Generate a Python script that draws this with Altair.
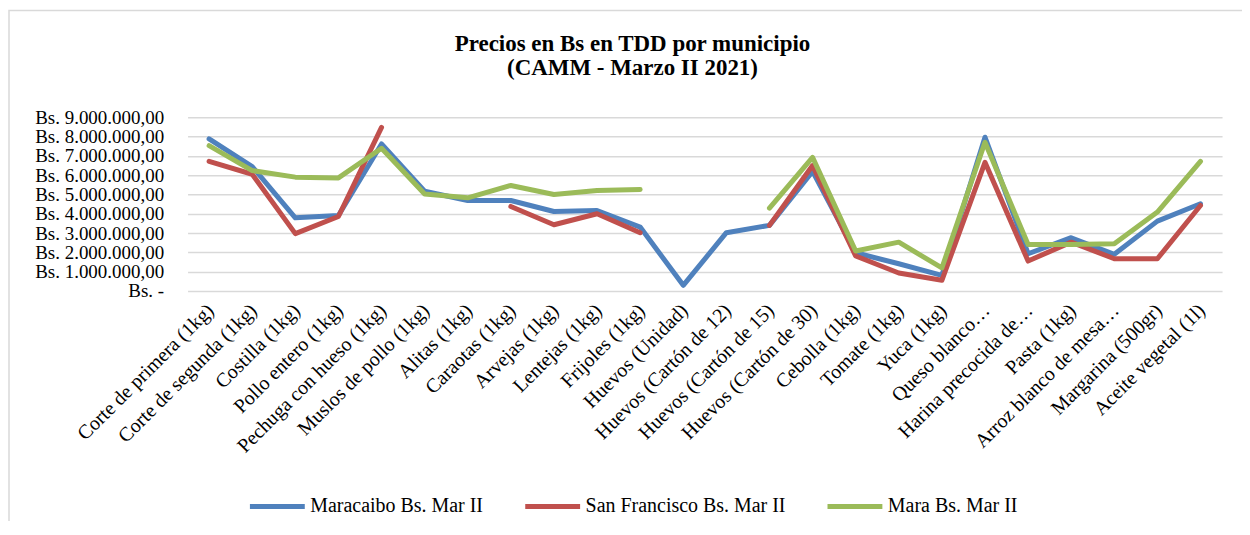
import altair as alt
import pandas as pd

categories = [
    "Corte de primera (1kg)", "Corte de segunda (1kg)", "Costilla (1kg)",
    "Pollo entero (1kg)", "Pechuga con hueso (1kg)", "Muslos de pollo (1kg)",
    "Alitas (1kg)", "Caraotas (1kg)", "Arvejas (1kg)", "Lentejas (1kg)",
    "Frijoles (1kg)", "Huevos (Unidad)", "Huevos (Cartón de 12)",
    "Huevos (Cartón de 15)", "Huevos (Cartón de 30)", "Cebolla (1kg)",
    "Tomate (1kg)", "Yuca (1kg)", "Queso blanco…", "Harina precocida de…",
    "Pasta (1kg)", "Arroz blanco de mesa…", "Margarina (500gr)", "Aceite vegetal (1l)",
]

maracaibo = [7880000, 6450000, 3790000, 3910000, 7620000, 5170000, 4690000, 4690000,
             4120000, 4170000, 3310000, 290000, 3020000, 3400000, 6200000, 1980000,
             1410000, 810000, 7970000, 1930000, 2760000, 1900000, 3620000, 4520000]
san_francisco = [6720000, 6050000, 2970000, 3860000, 8480000, None, None, 4380000,
                 3430000, 4000000, 3020000, None, None, 3400000, 6500000, 1810000,
                 930000, 550000, 6670000, 1550000, 2530000, 1670000, 1670000, 4430000]
mara = [7530000, 6240000, 5900000, 5860000, 7400000, 5030000, 4830000, 5470000,
        5000000, 5210000, 5260000, None, None, 4290000, 6930000, 2070000,
        2530000, 1190000, 7710000, 2410000, 2410000, 2450000, 4090000, 6720000]

series_names = ["Maracaibo Bs. Mar II", "San Francisco Bs. Mar II", "Mara Bs. Mar II"]
series_colors = ["#4F81BD", "#C0504D", "#9BBB59"]
y_ticks = [0, 1000000, 2000000, 3000000, 4000000, 5000000, 6000000, 7000000, 8000000, 9000000]
title_lines = ["Precios en Bs en TDD por municipio", "(CAMM - Marzo II 2021)"]

rows = []
for name, vals in zip(series_names, [maracaibo, san_francisco, mara]):
    seg = 0
    gap = True
    for cat, v in zip(categories, vals):
        if v is None:
            gap = True
            continue
        if gap:
            seg += 1
            gap = False
        rows.append({"categoria": cat, "serie": name, "valor": v, "tramo": f"{name}-{seg}"})
df = pd.DataFrame(rows)

FONT = "Liberation Serif"

x_enc = alt.X(
    "categoria:N", sort=categories, title=None,
    scale=alt.Scale(type="point", padding=0.5),
    axis=alt.Axis(labelAngle=-45, labelAlign="right", labelBaseline="top",
                  labelPadding=9, labelOffset=-6, labelFont=FONT, labelFontSize=20,
                  labelColor="#000000", labelLimit=400, labelOverlap=False,
                  domain=False, ticks=False, grid=False),
)
y_enc = alt.Y(
    "valor:Q", title=None,
    scale=alt.Scale(domain=[0, 9000000], nice=False),
    axis=alt.Axis(values=y_ticks,
                  labelExpr="datum.value == 0 ? 'Bs. -\u00a0\u00a0' : 'Bs. ' + format(datum.value / 1000000, 'd') + '.000.000,00'",
                  labelFont=FONT, labelFontSize=19, labelColor="#000000", labelPadding=24,
                  labelLimit=400, labelOverlap=False, domain=False, ticks=False, grid=True,
                  gridColor="#D9D9D9", gridWidth=1.5),
)
color_enc = alt.Color(
    "serie:N", title=None,
    scale=alt.Scale(domain=series_names, range=series_colors),
    legend=alt.Legend(orient="none", legendX=60, legendY=360, direction="horizontal",
                      symbolType="stroke", symbolSize=3025, symbolStrokeWidth=5,
                      labelFont=FONT, labelFontSize=20, labelColor="#000000",
                      labelOffset=3, columnPadding=31, labelLimit=400),
)

border = alt.Chart(pd.DataFrame({"b": [0]})).mark_rect(
    fillOpacity=0, stroke="#D9D9D9", strokeWidth=1.5
).encode(x=alt.value(-179), x2=alt.value(1072), y=alt.value(-107), y2=alt.value(430))

title1 = alt.Chart(pd.DataFrame({"t": [title_lines[0]]})).mark_text(
    font=FONT, fontSize=23, fontWeight="bold", color="#000000",
    align="center", baseline="alphabetic"
).encode(text="t:N", x=alt.value(446), y=alt.value(-67))
title2 = alt.Chart(pd.DataFrame({"t": [title_lines[1]]})).mark_text(
    font=FONT, fontSize=23, fontWeight="bold", color="#000000",
    align="center", baseline="alphabetic"
).encode(text="t:N", x=alt.value(446), y=alt.value(-42))

lines = []
for name in series_names:
    lines.append(
        alt.Chart(df).transform_filter(alt.datum.serie == name)
        .mark_line(strokeWidth=5, strokeCap="round", strokeJoin="round")
        .encode(x=x_enc, y=y_enc, color=color_enc, detail="tramo:N")
    )

chart = alt.layer(border, title1, title2, *lines).properties(
    width=1037, height=174,
    autosize=alt.AutoSizeParams(type="none"),
    padding={"left": 180, "top": 109, "right": 20, "bottom": 230},
).configure_view(stroke=None)

chart.save("out.html", embed_options={"renderer": "svg", "actions": False})
